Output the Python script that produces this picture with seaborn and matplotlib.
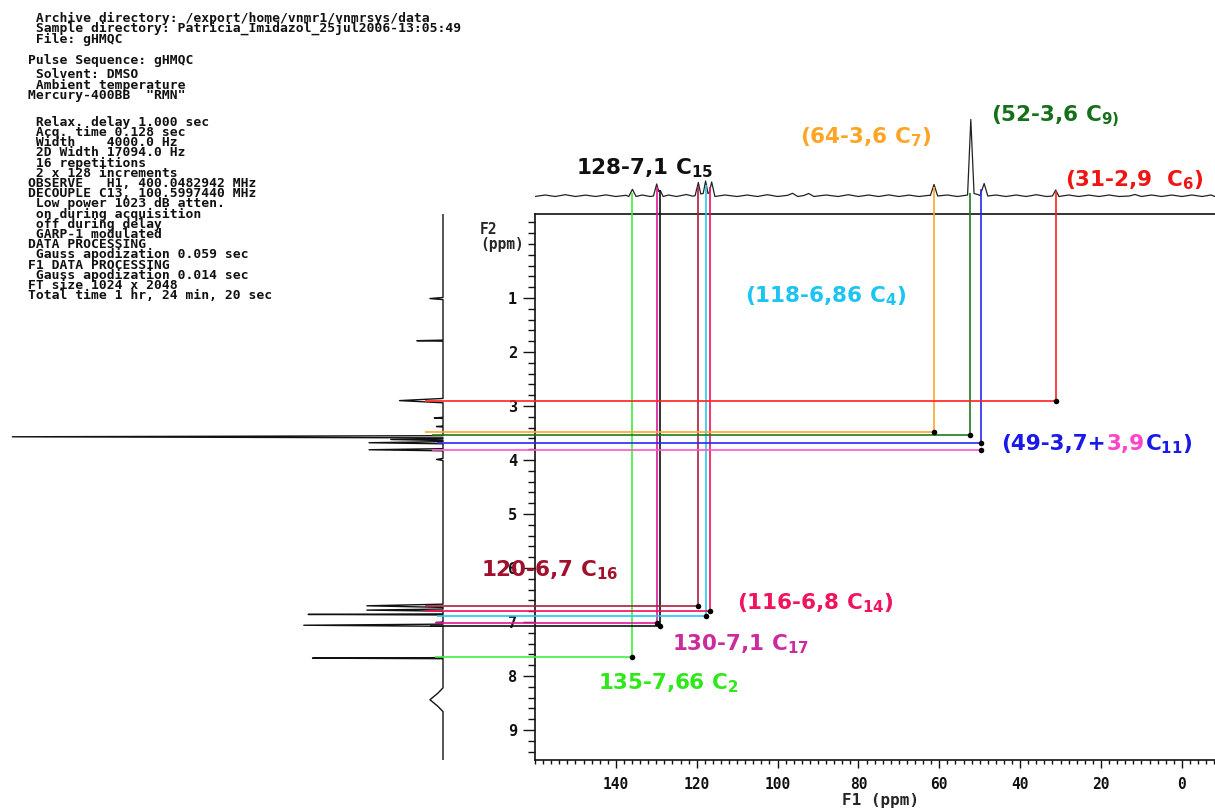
import numpy as np
import matplotlib
matplotlib.use("Agg")
import matplotlib.pyplot as plt
from matplotlib.ticker import MultipleLocator, FixedLocator
from matplotlib.transforms import offset_copy
import seaborn as sns

# ---------------- data ----------------
# HMQC correlations: carbon shift (F1, ppm) and proton shift (F2, ppm)
corr_names = ["C2", "C17", "C15", "C16", "C4", "C14", "C7", "C9", "C11", "C11b", "C6"]
corr_f1 = [136.1, 129.7, 129.0, 119.6, 117.8, 116.6, 61.4, 52.5, 49.8, 49.8, 31.2]
corr_f2 = [7.65, 7.01, 7.07, 6.70, 6.89, 6.80, 3.48, 3.53, 3.68, 3.82, 2.90]
corr_colors = ["#40F040", "#E0189C", "#111111", "#B01C3C", "#22C8F2", "#F0105A",
               "#FFA52A", "#1E7A1E", "#2828F0", "#FF55CC", "#FF2020"]
# where each guide line meets the 1D traces (top trace height / left trace intensity)
v_top = [3.5, 9.5, 6.5, 10.5, 11.5, 9.5, 9.5, 3.5, 7.5, np.nan, 5.5]
h_start = [1.8, 1.8, 3.0, 4.1, 1.4, 4.1, 4.1, 2.5, 1.4, 2.5, 4.1]

# 13C projection (top trace): F1 ppm and height
top_f1 = [160, 157.5, 155, 152.5, 150, 147.5, 145, 142.5, 140, 137.5,
          136.8, 135.9, 135.0, 133.5, 131.5, 130.7, 129.9, 129.4, 129.0, 128.3,
          127, 125, 122.5, 121, 120.4, 119.6, 119.0, 118.4, 117.8, 117.2,
          116.9, 116.3, 115.5, 113, 110, 107.5, 105, 102.5, 100, 97.5,
          96.3, 95, 93.5, 92.3, 91, 88, 85, 82.5, 80, 77.5,
          75, 72.5, 70, 67.5, 65, 62.5, 62.2, 61.3, 60.4, 58,
          55.5, 53.0, 52.2, 51.4, 50.5, 49.9, 48.9, 48.0, 46, 43.5,
          41, 38.5, 36, 33.5, 32.0, 31.2, 30.4, 28, 25.5, 23,
          20.5, 18, 15.5, 13, 11.6, 10, 7.5, 5, 2.5, 0,
          -2.5, -5, -7.2, -8.2]
top_h = [0, 1.5, 0, 1.8, 0, 1.4, 0, 1.6, 0, 1.2,
         0, 7.2, 0, 1.5, 0, 0.5, 12.5, 5.0, 6.0, 0,
         1.5, 0, 2.0, 0.3, 0.8, 14.0, 2.5, 3.0, 15.5, 3.0,
         3.5, 14.5, 0, 1.5, 0, 1.5, 0, 1.8, 0, 1.2,
         3.2, 0, 1.0, 3.0, 0, 1.5, 0, 1.8, 0, 1.5,
         0, 1.6, 0, 1.4, 0, 1.2, 1.0, 12.0, 0.5, 1.5,
         0, 1.5, 77.0, 3.0, 2.0, 1.0, 13.0, 0.5, 1.5, 0,
         1.5, 0, 1.8, 0, 0.5, 6.5, 0, 1.5, 0, 1.4,
         0, 1.5, 0, 0.5, 2.0, 0, 1.5, 0, 1.5, 0,
         1.5, 0, 1.5, 0]

# 1H projection (left trace): F2 ppm and intensity
left_f2 = [-0.56, 0.99, 1.01, 1.03, 1.78, 1.79, 1.80, 2.86, 2.90, 2.94,
           3.21, 3.22, 3.23, 3.37, 3.38, 3.39, 3.55, 3.57, 3.59, 3.61,
           3.62, 3.64, 3.66, 3.68, 3.70, 3.79, 3.81, 3.83, 3.97, 3.99,
           4.01, 6.67, 6.70, 6.73, 6.76, 6.78, 6.80, 6.85, 6.86, 6.87,
           7.00, 7.01, 7.02, 7.04, 7.06, 7.08, 7.66, 7.67, 7.68, 8.22,
           8.32, 8.44, 8.56, 8.66, 9.56]
left_int = [0, 0, 3, 0, 0, 6, 0, 0, 10, 0,
            0, 2, 0, 0, 1.5, 0, 0, 99, 0, 0,
            12, 0, 0, 17, 0, 0, 17, 0, 0, 1.5,
            0, 0, 17.5, 0, 0, 17.5, 0, 0, 31, 0,
            0, 1.6, 0, 0, 32, 0, 0, 30, 0, 0,
            1.2, 3, 1.2, 0, 0]

# annotation texts
ann_texts = ["135-7,66 C$_{\\mathbf{2}}$", "130-7,1 C$_{\\mathbf{17}}$",
             "128-7,1 C$_{\\mathbf{15}}$", "120-6,7 C$_{\\mathbf{16}}$",
             "(118-6,86 C$_{\\mathbf{4}}$)", "(116-6,8 C$_{\\mathbf{14}}$)",
             "(64-3,6 C$_{\\mathbf{7}}$)", "(52-3,6 C$_{\\mathbf{9)}}$",
             "(31-2,9  C$_{\\mathbf{6}}$)"]
ann_colors = ["#2EE81A", "#CC2B9E", "#111111", "#A1102C", "#1CC4F4",
              "#F0145E", "#FFA526", "#16701A", "#F01414"]
multi_parts = ["(49-3,7+", "3,9", "C$_{\\mathbf{11}}$)"]
multi_colors = ["#1A1AE8", "#FF44CC", "#1A1AE8"]

header_blocks = [
    [" Archive directory: /export/home/vnmr1/vnmrsys/data",
     " Sample directory: Patricia_Imidazol_25jul2006-13:05:49",
     " File: gHMQC"],
    ["Pulse Sequence: gHMQC"],
    [" Solvent: DMSO",
     " Ambient temperature",
     "Mercury-400BB  \"RMN\""],
    [" Relax. delay 1.000 sec",
     " Acq. time 0.128 sec",
     " Width    4000.0 Hz",
     " 2D Width 17094.0 Hz",
     " 16 repetitions",
     " 2 x 128 increments",
     "OBSERVE   H1, 400.0482942 MHz",
     "DECOUPLE C13, 100.5997440 MHz",
     " Low power 1023 dB atten.",
     " on during acquisition",
     " off during delay",
     " GARP-1 modulated",
     "DATA PROCESSING",
     " Gauss apodization 0.059 sec",
     "F1 DATA PROCESSING",
     " Gauss apodization 0.014 sec",
     "FT size 1024 x 2048",
     "Total time 1 hr, 24 min, 20 sec"],
]
x_tick_values = [140, 120, 100, 80, 60, 40, 20, 0]
y_tick_values = [1, 2, 3, 4, 5, 6, 7, 8, 9]

# ---------------- layout / style ----------------
sns.set_style("white")
plt.rcParams["font.family"] = ["DejaVu Sans Mono", "DejaVu Sans"]
plt.rcParams["font.weight"] = "bold"
plt.rcParams["mathtext.fontset"] = "dejavusans"

W, H = 1215, 810
fig = plt.figure(figsize=(W / 100, H / 100), dpi=100)
fig.patch.set_facecolor("white")


def fx(px):
    return px / W


def fy(py):
    return 1 - py / H


ax = fig.add_axes([fx(535), fy(760), fx(680), (760 - 214) / H])
ax_top = fig.add_axes([fx(535), fy(214), fx(680), (214 - 100) / H], sharex=ax)
ax_left = fig.add_axes([0, fy(760), fx(535), (760 - 214) / H], sharey=ax)

XL = (160.0, -8.2)
YL = (9.556, -0.556)
TOPL = (-17.5, 96.5)
LEFTL = (101.84, -21.15)

# 1D traces
sns.lineplot(x=top_f1, y=top_h, ax=ax_top, color="#222222", lw=0.9,
             sort=False, estimator=None)
sns.lineplot(x=left_int, y=left_f2, ax=ax_left, color="#111111", lw=1.0,
             sort=False, estimator=None, orient="y")

for a in (ax_top, ax_left):
    a.patch.set_visible(False)
    for s in a.spines.values():
        s.set_visible(False)
    a.set_xlabel("")
    a.set_ylabel("")
    a.tick_params(which="both", left=False, bottom=False, top=False, right=False,
                  labelleft=False, labelbottom=False)

# guide lines
for f1, f2, c, vt, hs in zip(corr_f1, corr_f2, corr_colors, v_top, h_start):
    ax.hlines(f2, XL[0], f1, color=c, lw=1.2, zorder=3)
    ax_left.hlines(f2, hs, LEFTL[1], color=c, lw=1.2, zorder=3)
    if not np.isnan(vt):
        ax.vlines(f1, f2, YL[1], color=c, lw=1.2, zorder=3)
        ax_top.vlines(f1, TOPL[0], vt, color=c, lw=1.2, zorder=3)

# cross peaks
sns.scatterplot(x=corr_f1, y=corr_f2, ax=ax, color="black", s=16,
                linewidth=0, zorder=5, legend=False)

ax.set_xlim(*XL)
ax.set_ylim(*YL)
ax_top.set_ylim(*TOPL)
ax_left.set_xlim(*LEFTL)

# axes styling
for side in ("left", "bottom", "top"):
    ax.spines[side].set_visible(True)
    ax.spines[side].set_color("#111111")
    ax.spines[side].set_linewidth(1.2)
ax.spines["right"].set_visible(False)
ax.xaxis.set_major_locator(FixedLocator(x_tick_values))
ax.xaxis.set_minor_locator(MultipleLocator(2))
ax.yaxis.set_major_locator(FixedLocator(y_tick_values))
ax.yaxis.set_minor_locator(MultipleLocator(0.2))
ax.tick_params(axis="both", which="both", direction="out", colors="#111111",
               width=1.0, left=True, bottom=True, top=False, right=False,
               labelleft=True, labelbottom=True)
ax.tick_params(axis="x", which="major", length=6, pad=6, labelsize=10.5)
ax.tick_params(axis="x", which="minor", length=3)
ax.tick_params(axis="y", which="major", length=9, pad=4, labelsize=11)
ax.tick_params(axis="y", which="minor", length=5)
for lab in ax.get_xticklabels() + ax.get_yticklabels():
    lab.set_fontfamily("DejaVu Sans Mono")
    lab.set_fontweight("bold")
ax.set_xlabel("")
ax.set_ylabel("")

fig.text(fx(880), fy(800), "F1 (ppm)", ha="center", va="center",
         fontsize=11.5, family="DejaVu Sans Mono", weight="bold")
fig.text(fx(480), fy(237), "F2\n(ppm)", ha="left", va="center",
         fontsize=10.5, family="DejaVu Sans Mono", weight="bold",
         linespacing=1.0)

# header: one text per block, lines ~10.3 px apart
block_top = [17.3, 59.3, 74, 121.3]
for lines, py in zip(header_blocks, block_top):
    fig.text(fx(28), fy(py - 5.7), "\n".join(lines), ha="left", va="top",
             fontsize=9.4, family="DejaVu Sans Mono", weight="bold",
             color="#111111", linespacing=0.72)

# annotations (data coordinates of the 2D plot)
ann_pos = [(144.3, 8.241), (126.0, 7.519), (149.75, -1.296), (173.27, 6.161),
           (108.17, 1.074), (110.15, 6.759), (94.55, -1.870), (47.28, -2.265),
           (28.96, -1.061)]
for t, c, (px_, py_) in zip(ann_texts, ann_colors, ann_pos):
    ax.text(px_, py_, t, color=c, fontsize=15.5, family="DejaVu Sans",
            weight="bold", ha="left", va="baseline", clip_on=False, zorder=6)

fig.canvas.draw()
renderer = fig.canvas.get_renderer()
mx, my = 44.80, 3.815
offset = 0.0
for t, c in zip(multi_parts, multi_colors):
    tr = offset_copy(ax.transData, fig=fig, x=offset, y=0, units="dots")
    txt = ax.text(mx, my, t, color=c, fontsize=15.5, family="DejaVu Sans",
                  weight="bold", ha="left", va="baseline", clip_on=False,
                  transform=tr, zorder=6)
    fig.canvas.draw()
    offset += txt.get_window_extent(renderer).width + 1.0

fig.savefig("out.png", dpi=100, facecolor="white")
